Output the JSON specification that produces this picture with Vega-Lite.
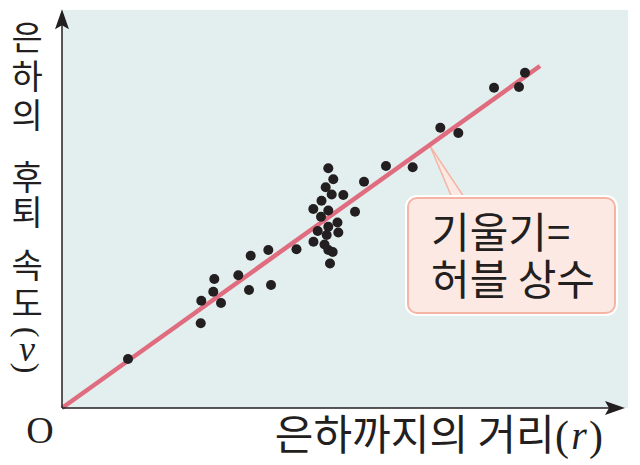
{
  "$schema": "https://vega.github.io/schema/vega-lite/v6.json",
  "width": 566,
  "height": 398,
  "autosize": {"type": "none"},
  "padding": {"left": 62, "top": 10, "right": 12, "bottom": 57},
  "background": "white",
  "config": {
    "view": {"stroke": null, "fill": "#e3efef"}
  },
  "encoding": {
    "x": {"type": "quantitative", "scale": {"domain": [0, 100], "nice": false}, "axis": null},
    "y": {"type": "quantitative", "scale": {"domain": [0, 100], "nice": false}, "axis": null}
  },
  "layer": [
    {
      "data": {"values": [{"x": 65.02, "y": 65.83, "y2": 65.83}, {"x": 69.08, "y": 57.16, "y2": 52.26}, {"x": 71.38, "y": 52.26, "y2": 52.26}]},
      "mark": {"type": "area", "fill": "#fde9e3", "stroke": "#f4b5a4", "strokeWidth": 1.5, "opacity": 1},
      "encoding": {
        "x": {"field": "x", "type": "quantitative"},
        "y": {"field": "y", "type": "quantitative"},
        "y2": {"field": "y2"}
      }
    },
    {
      "data": {"values": [{}]},
      "mark": {"type": "rule", "color": "#df6d7f", "strokeWidth": 4.5},
      "encoding": {
        "x": {"datum": 0, "type": "quantitative"},
        "y": {"datum": 0, "type": "quantitative"},
        "x2": {"datum": 84.45},
        "y2": {"datum": 85.93}
      }
    },
    {
      "data": {"values": [
        {"r": 11.66, "v": 12.31}, {"r": 24.51, "v": 21.28}, {"r": 24.61, "v": 26.96}, {"r": 26.73, "v": 29.22},
        {"r": 26.91, "v": 32.41}, {"r": 28.09, "v": 26.38}, {"r": 31.15, "v": 33.34}, {"r": 33.04, "v": 29.65},
        {"r": 33.34, "v": 38.27}, {"r": 36.45, "v": 39.70}, {"r": 36.93, "v": 30.90}, {"r": 41.43, "v": 39.90},
        {"r": 47.05, "v": 60.23}, {"r": 47.93, "v": 57.46}, {"r": 46.59, "v": 55.45}, {"r": 47.65, "v": 53.64},
        {"r": 49.70, "v": 53.52}, {"r": 45.85, "v": 52.09}, {"r": 44.40, "v": 50.00}, {"r": 47.05, "v": 49.62},
        {"r": 51.77, "v": 49.32}, {"r": 45.76, "v": 48.07}, {"r": 48.67, "v": 46.61}, {"r": 47.05, "v": 45.53},
        {"r": 45.18, "v": 44.47}, {"r": 48.82, "v": 44.10}, {"r": 46.77, "v": 43.47}, {"r": 44.43, "v": 41.78},
        {"r": 46.38, "v": 41.08}, {"r": 47.05, "v": 39.70}, {"r": 47.83, "v": 39.20}, {"r": 47.35, "v": 36.31},
        {"r": 53.36, "v": 56.86}, {"r": 57.24, "v": 60.80}, {"r": 61.96, "v": 60.48}, {"r": 66.84, "v": 70.43},
        {"r": 70.02, "v": 69.10}, {"r": 76.33, "v": 80.48}, {"r": 80.74, "v": 80.65}, {"r": 81.80, "v": 84.25}
      ]},
      "mark": {"type": "circle", "size": 100, "color": "#231f20", "opacity": 1},
      "encoding": {
        "x": {"field": "r", "type": "quantitative"},
        "y": {"field": "v", "type": "quantitative"}
      }
    },
    {
      "data": {"values": [{}]},
      "mark": {"type": "rule", "color": "#231f20", "strokeWidth": 1.5},
      "encoding": {
        "x": {"datum": 0, "type": "quantitative"},
        "x2": {"datum": 97},
        "y": {"datum": 0, "type": "quantitative"}
      }
    },
    {
      "data": {"values": [{}]},
      "mark": {"type": "rule", "color": "#231f20", "strokeWidth": 1.5},
      "encoding": {
        "x": {"datum": 0, "type": "quantitative"},
        "y": {"datum": 0, "type": "quantitative"},
        "y2": {"datum": 97}
      }
    },
    {
      "data": {"values": [{}]},
      "mark": {"type": "point", "shape": "M1,0 L-1,-0.7 L-0.6,0 L-1,0.7 Z", "size": 400, "filled": true, "color": "#231f20", "opacity": 1},
      "encoding": {
        "x": {"datum": 97.7, "type": "quantitative"},
        "y": {"datum": 0, "type": "quantitative"}
      }
    },
    {
      "data": {"values": [{}]},
      "mark": {"type": "point", "shape": "M0,-1 L-0.7,1 L0,0.6 L0.7,1 Z", "size": 400, "filled": true, "color": "#231f20", "opacity": 1},
      "encoding": {
        "x": {"datum": 0, "type": "quantitative"},
        "y": {"datum": 97.7, "type": "quantitative"}
      }
    },
    {
      "data": {"values": [{}]},
      "mark": {"type": "rect", "fill": null, "stroke": "white", "strokeWidth": 6, "cornerRadius": 9},
      "encoding": {
        "x": {"datum": 61.13, "type": "quantitative"},
        "x2": {"datum": 97.7},
        "y": {"datum": 52.76, "type": "quantitative"},
        "y2": {"datum": 23.87}
      }
    },
    {
      "data": {"values": [{}]},
      "mark": {"type": "rect", "fill": "#fde9e3", "stroke": "#f4b5a4", "strokeWidth": 2, "cornerRadius": 9, "opacity": 1},
      "encoding": {
        "x": {"datum": 61.13, "type": "quantitative"},
        "x2": {"datum": 97.7},
        "y": {"datum": 52.76, "type": "quantitative"},
        "y2": {"datum": 23.87}
      }
    },
    {
      "data": {"values": [{}]},
      "mark": {"type": "text", "text": ["기울기=", "허블 상수"], "font": "Noto Sans CJK KR", "fontSize": 42, "lineHeight": 47, "align": "left", "baseline": "middle", "color": "#231f20"},
      "encoding": {
        "x": {"datum": 65.2, "type": "quantitative"},
        "y": {"datum": 43.47, "type": "quantitative"}
      }
    },
    {
      "data": {"values": [{}]},
      "mark": {"type": "text", "text": "은하까지의 거리", "font": "Noto Sans CJK KR", "fontSize": 42, "align": "left", "baseline": "middle", "color": "#231f20"},
      "encoding": {
        "x": {"datum": 37.6, "type": "quantitative"},
        "y": {"datum": -7.29, "type": "quantitative"}
      }
    },
    {
      "data": {"values": [{}]},
      "mark": {"type": "text", "text": ["은", "하", "의"], "font": "Noto Sans CJK KR", "fontSize": 34, "lineHeight": 39, "align": "center", "baseline": "middle", "color": "#231f20"},
      "encoding": {
        "x": {"datum": -6.18, "type": "quantitative"},
        "y": {"datum": 92.46, "type": "quantitative"}
      }
    },
    {
      "data": {"values": [{}]},
      "mark": {"type": "text", "text": ["후", "퇴"], "font": "Noto Sans CJK KR", "fontSize": 34, "lineHeight": 35, "align": "center", "baseline": "middle", "color": "#231f20"},
      "encoding": {
        "x": {"datum": -6.18, "type": "quantitative"},
        "y": {"datum": 57.29, "type": "quantitative"}
      }
    },
    {
      "data": {"values": [{}]},
      "mark": {"type": "text", "text": ["속", "도"], "font": "Noto Sans CJK KR", "fontSize": 34, "lineHeight": 38, "align": "center", "baseline": "middle", "color": "#231f20"},
      "encoding": {
        "x": {"datum": -6.18, "type": "quantitative"},
        "y": {"datum": 35.18, "type": "quantitative"}
      }
    },
    {
      "data": {"values": [{}]},
      "mark": {"type": "text", "text": "(", "font": "Liberation Serif", "fontSize": 32, "align": "center", "baseline": "middle", "color": "#231f20"},
      "encoding": {
        "x": {"datum": -6.18, "type": "quantitative"},
        "y": {"datum": 19.1, "type": "quantitative"},
        "angle": {"value": 90}
      }
    },
    {
      "data": {"values": [{}]},
      "mark": {"type": "text", "text": ")", "font": "Liberation Serif", "fontSize": 32, "align": "center", "baseline": "middle", "color": "#231f20"},
      "encoding": {
        "x": {"datum": -6.18, "type": "quantitative"},
        "y": {"datum": 10.05, "type": "quantitative"},
        "angle": {"value": 90}
      }
    },
    {
      "data": {"values": [{}]},
      "mark": {"type": "text", "text": "v", "font": "Liberation Serif", "fontStyle": "italic", "fontSize": 36, "align": "center", "baseline": "middle", "color": "#231f20"},
      "encoding": {
        "x": {"datum": -6.18, "type": "quantitative"},
        "y": {"datum": 14.57, "type": "quantitative"}
      }
    },
    {
      "data": {"values": [{}]},
      "mark": {"type": "text", "text": "O", "font": "Liberation Serif", "fontSize": 38, "align": "center", "baseline": "middle", "dx": -22, "dy": 24, "color": "#231f20"},
      "encoding": {
        "x": {"datum": 0, "type": "quantitative"},
        "y": {"datum": 0, "type": "quantitative"}
      }
    },
    {
      "data": {"values": [{}]},
      "mark": {"type": "text", "text": "(", "font": "Liberation Serif", "fontSize": 42, "align": "left", "baseline": "middle", "color": "#231f20"},
      "encoding": {
        "x": {"datum": 87.1, "type": "quantitative"},
        "y": {"datum": -7.29, "type": "quantitative"}
      }
    },
    {
      "data": {"values": [{}]},
      "mark": {"type": "text", "text": "r", "font": "Liberation Serif", "fontStyle": "italic", "fontSize": 40, "align": "center", "baseline": "middle", "color": "#231f20"},
      "encoding": {
        "x": {"datum": 91.34, "type": "quantitative"},
        "y": {"datum": -7.29, "type": "quantitative"}
      }
    },
    {
      "data": {"values": [{}]},
      "mark": {"type": "text", "text": ")", "font": "Liberation Serif", "fontSize": 42, "align": "right", "baseline": "middle", "color": "#231f20"},
      "encoding": {
        "x": {"datum": 95.58, "type": "quantitative"},
        "y": {"datum": -7.29, "type": "quantitative"}
      }
    }
  ]
}
